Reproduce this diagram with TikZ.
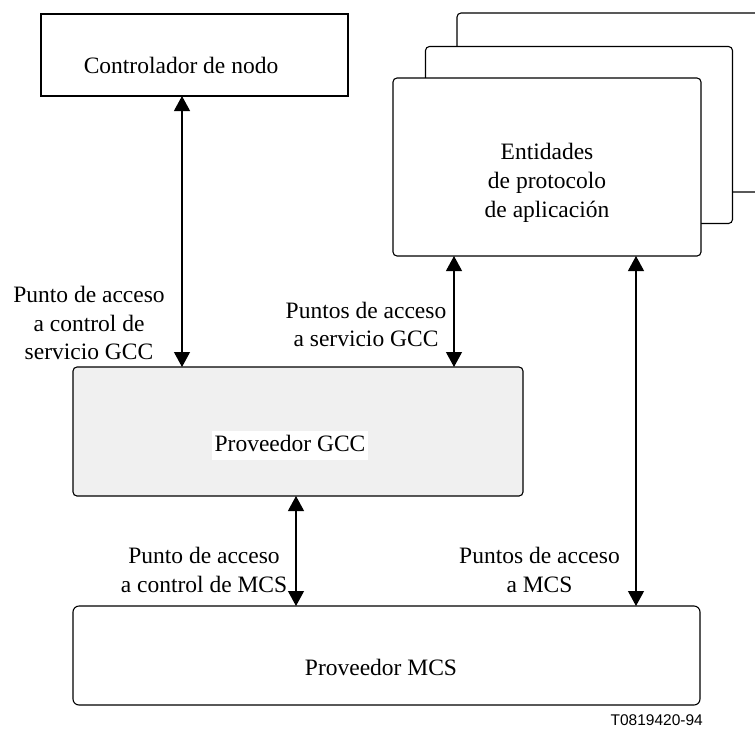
\documentclass[tikz,border=0pt]{standalone}
\usepackage{fontspec}
\setmainfont{Liberation Serif}
\newfontfamily\codefont{Liberation Sans}
\usetikzlibrary{arrows.meta}
\begin{document}
\begin{tikzpicture}[x=1pt,y=-1pt,
  box/.style={draw, line width=1.1pt, inner sep=0pt, outer sep=0pt, fill=white},
  roundbox/.style={box, rounded corners=4pt},
  txt/.style={font=\fontsize{23.5}{29}\selectfont, inner sep=0pt, anchor=base},
  link/.style={line width=1.1pt,
    {Triangle[length=15pt,width=16pt]}-{Triangle[length=15pt,width=16pt]}}
]
\useasboundingbox (0,0) rectangle (755,729);
\clip (0,0) rectangle (755,729);

% node controller
\node[box, minimum width=307pt, minimum height=82pt] (ctrl) at (194.5,55) {};
\node[txt] (ctrltxt) at (181,73) {Controlador de nodo};

% stacked application protocol entities
\node[roundbox, minimum width=307pt, minimum height=179pt] (apeC) at (610.5,102.5) {};
\node[roundbox, minimum width=307pt, minimum height=177pt] (apeB) at (579,135) {};
\node[roundbox, minimum width=308pt, minimum height=178pt] (apeA) at (547,167) {};
\node[txt] (ape1) at (547,159) {Entidades};
\node[txt] (ape2) at (547,188) {de protocolo};
\node[txt] (ape3) at (547,217) {de aplicación};

% GCC provider
\node[roundbox, fill=black!6, minimum width=450pt, minimum height=129pt] (gcc) at (298,431.5) {};
\node[txt, fill=white, text height=18pt, text depth=7pt, inner xsep=2.5pt, inner ysep=2pt]
  (gcctxt) at (290,451) {Proveedor GCC};

% MCS provider
\node[roundbox, rounded corners=6pt, minimum width=627pt, minimum height=99pt] (mcs) at (386.5,655.5) {};
\node[txt] (mcstxt) at (381,675) {Proveedor MCS};

% connector positions
\coordinate (xa) at (182,0);
\coordinate (xb) at (454,0);
\coordinate (xc) at (296,0);
\coordinate (xd) at (636,0);

\draw[link] (ctrl.south -| xa) -- (gcc.north -| xa);
\draw[link] (apeA.south -| xb) -- (gcc.north -| xb);
\draw[link] (gcc.south -| xc) -- (mcs.north -| xc);
\draw[link] (apeA.south -| xd) -- (mcs.north -| xd);

% access point labels
\node[txt] (la1) at (89,302) {Punto de acceso};
\node[txt] (la2) at (89,331) {a control de};
\node[txt] (la3) at (89,359) {servicio GCC};

\node[txt] (lb1) at (366,318) {Puntos de acceso};
\node[txt] (lb2) at (366,346) {a servicio GCC};

\node[txt] (lc1) at (204,563) {Punto de acceso};
\node[txt] (lc2) at (204,592) {a control de MCS};

\node[txt] (ld1) at (539.5,563) {Puntos de acceso};
\node[txt] (ld2) at (539.5,592) {a MCS};

% figure reference
\node[inner sep=0pt, anchor=base east, font=\codefont\fontsize{15.5}{18}\selectfont] (ref) at (703,725) {T0819420-94};
\end{tikzpicture}
\end{document}
